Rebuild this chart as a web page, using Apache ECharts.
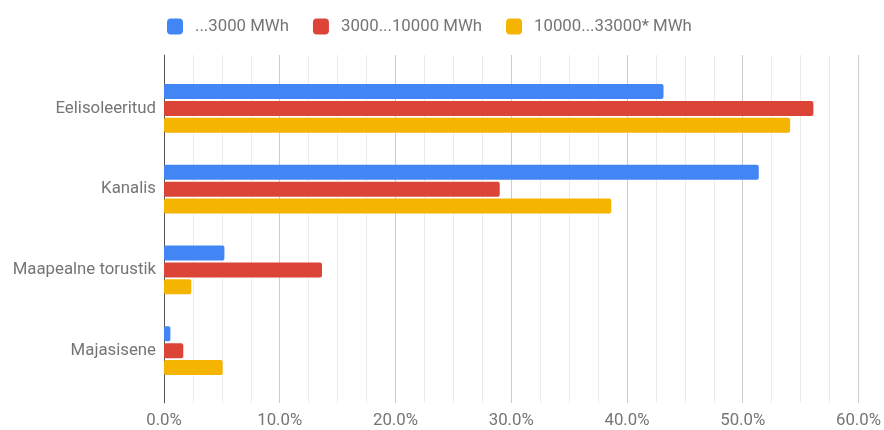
<!DOCTYPE html>
<html>
<head>
<meta charset="utf-8">
<script src="https://cdn.jsdelivr.net/npm/echarts@6/dist/echarts.min.js"></script>
<style>
  html, body { margin: 0; padding: 0; background: #fff; }
  #chart { width: 884px; height: 430px; }
</style>
</head>
<body>
<div id="chart"></div>
<script>
// andmed (protsent)
var categories = ['Eelisoleeritud', 'Kanalis', 'Maapealne torustik', 'Majasisene'];
var seriesNames = ['...3000 MWh', '3000...10000 MWh', '10000...33000* MWh'];
var small = [43.0, 51.2, 5.2, 0.55];
var medium = [55.9, 28.9, 13.6, 1.66];
var large = [53.9, 38.5, 2.35, 5.05];
var colors = ['#4285F4', '#DB4437', '#F4B400'];

var chart = echarts.init(document.getElementById('chart'));
var font = 'Roboto, sans-serif';
var fs = 16.8;

function bar(name, data, color) {
  return {
    name: name,
    type: 'bar',
    xAxisIndex: 0,
    yAxisIndex: 0,
    data: data,
    barWidth: 15,
    barGap: '13%',
    itemStyle: { color: color, borderRadius: 2 }
  };
}

var option = {
  animation: false,
  legend: {
    top: 18,
    left: 167,
    padding: 0,
    itemWidth: 16,
    itemHeight: 16,
    itemGap: 24,
    icon: 'roundRect',
    textStyle: { fontFamily: font, fontSize: fs, color: '#757575', padding: [0, 0, 0, 7] },
    data: seriesNames
  },
  grid: [
    // latid
    { left: 164, right: 23, top: 68, bottom: 39 },
    // ruudustik + teljed
    { left: 164, right: 23, top: 55, bottom: 27 }
  ],
  xAxis: [
    { gridIndex: 0, type: 'value', min: 0, max: 60, interval: 10, show: false },
    {
      gridIndex: 1, type: 'value', min: 0, max: 60, interval: 10,
      axisLine: { show: false },
      axisTick: { show: false },
      axisLabel: {
        fontFamily: font, fontSize: fs, color: '#757575', margin: 9,
        formatter: function (v) { return v.toFixed(1) + '%'; }
      },
      splitLine: { show: true, lineStyle: { color: '#ccc' } },
      minorTick: { show: false, splitNumber: 4 },
      minorSplitLine: { show: true, lineStyle: { color: '#ebebeb' } }
    }
  ],
  yAxis: [
    {
      gridIndex: 0, type: 'category', data: categories, inverse: true,
      axisLine: { show: false },
      axisTick: { show: false },
      axisLabel: { fontFamily: font, fontSize: fs, color: '#757575', margin: 8 }
    },
    {
      gridIndex: 1, type: 'value', min: 0, max: 1,
      axisLine: { show: true, lineStyle: { color: '#555', width: 1 } },
      axisTick: { show: false },
      axisLabel: { show: false },
      splitLine: { show: false }
    }
  ],
  series: [
    bar(seriesNames[0], small, colors[0]),
    bar(seriesNames[1], medium, colors[1]),
    bar(seriesNames[2], large, colors[2])
  ]
};

chart.setOption(option);
</script>
</body>
</html>
